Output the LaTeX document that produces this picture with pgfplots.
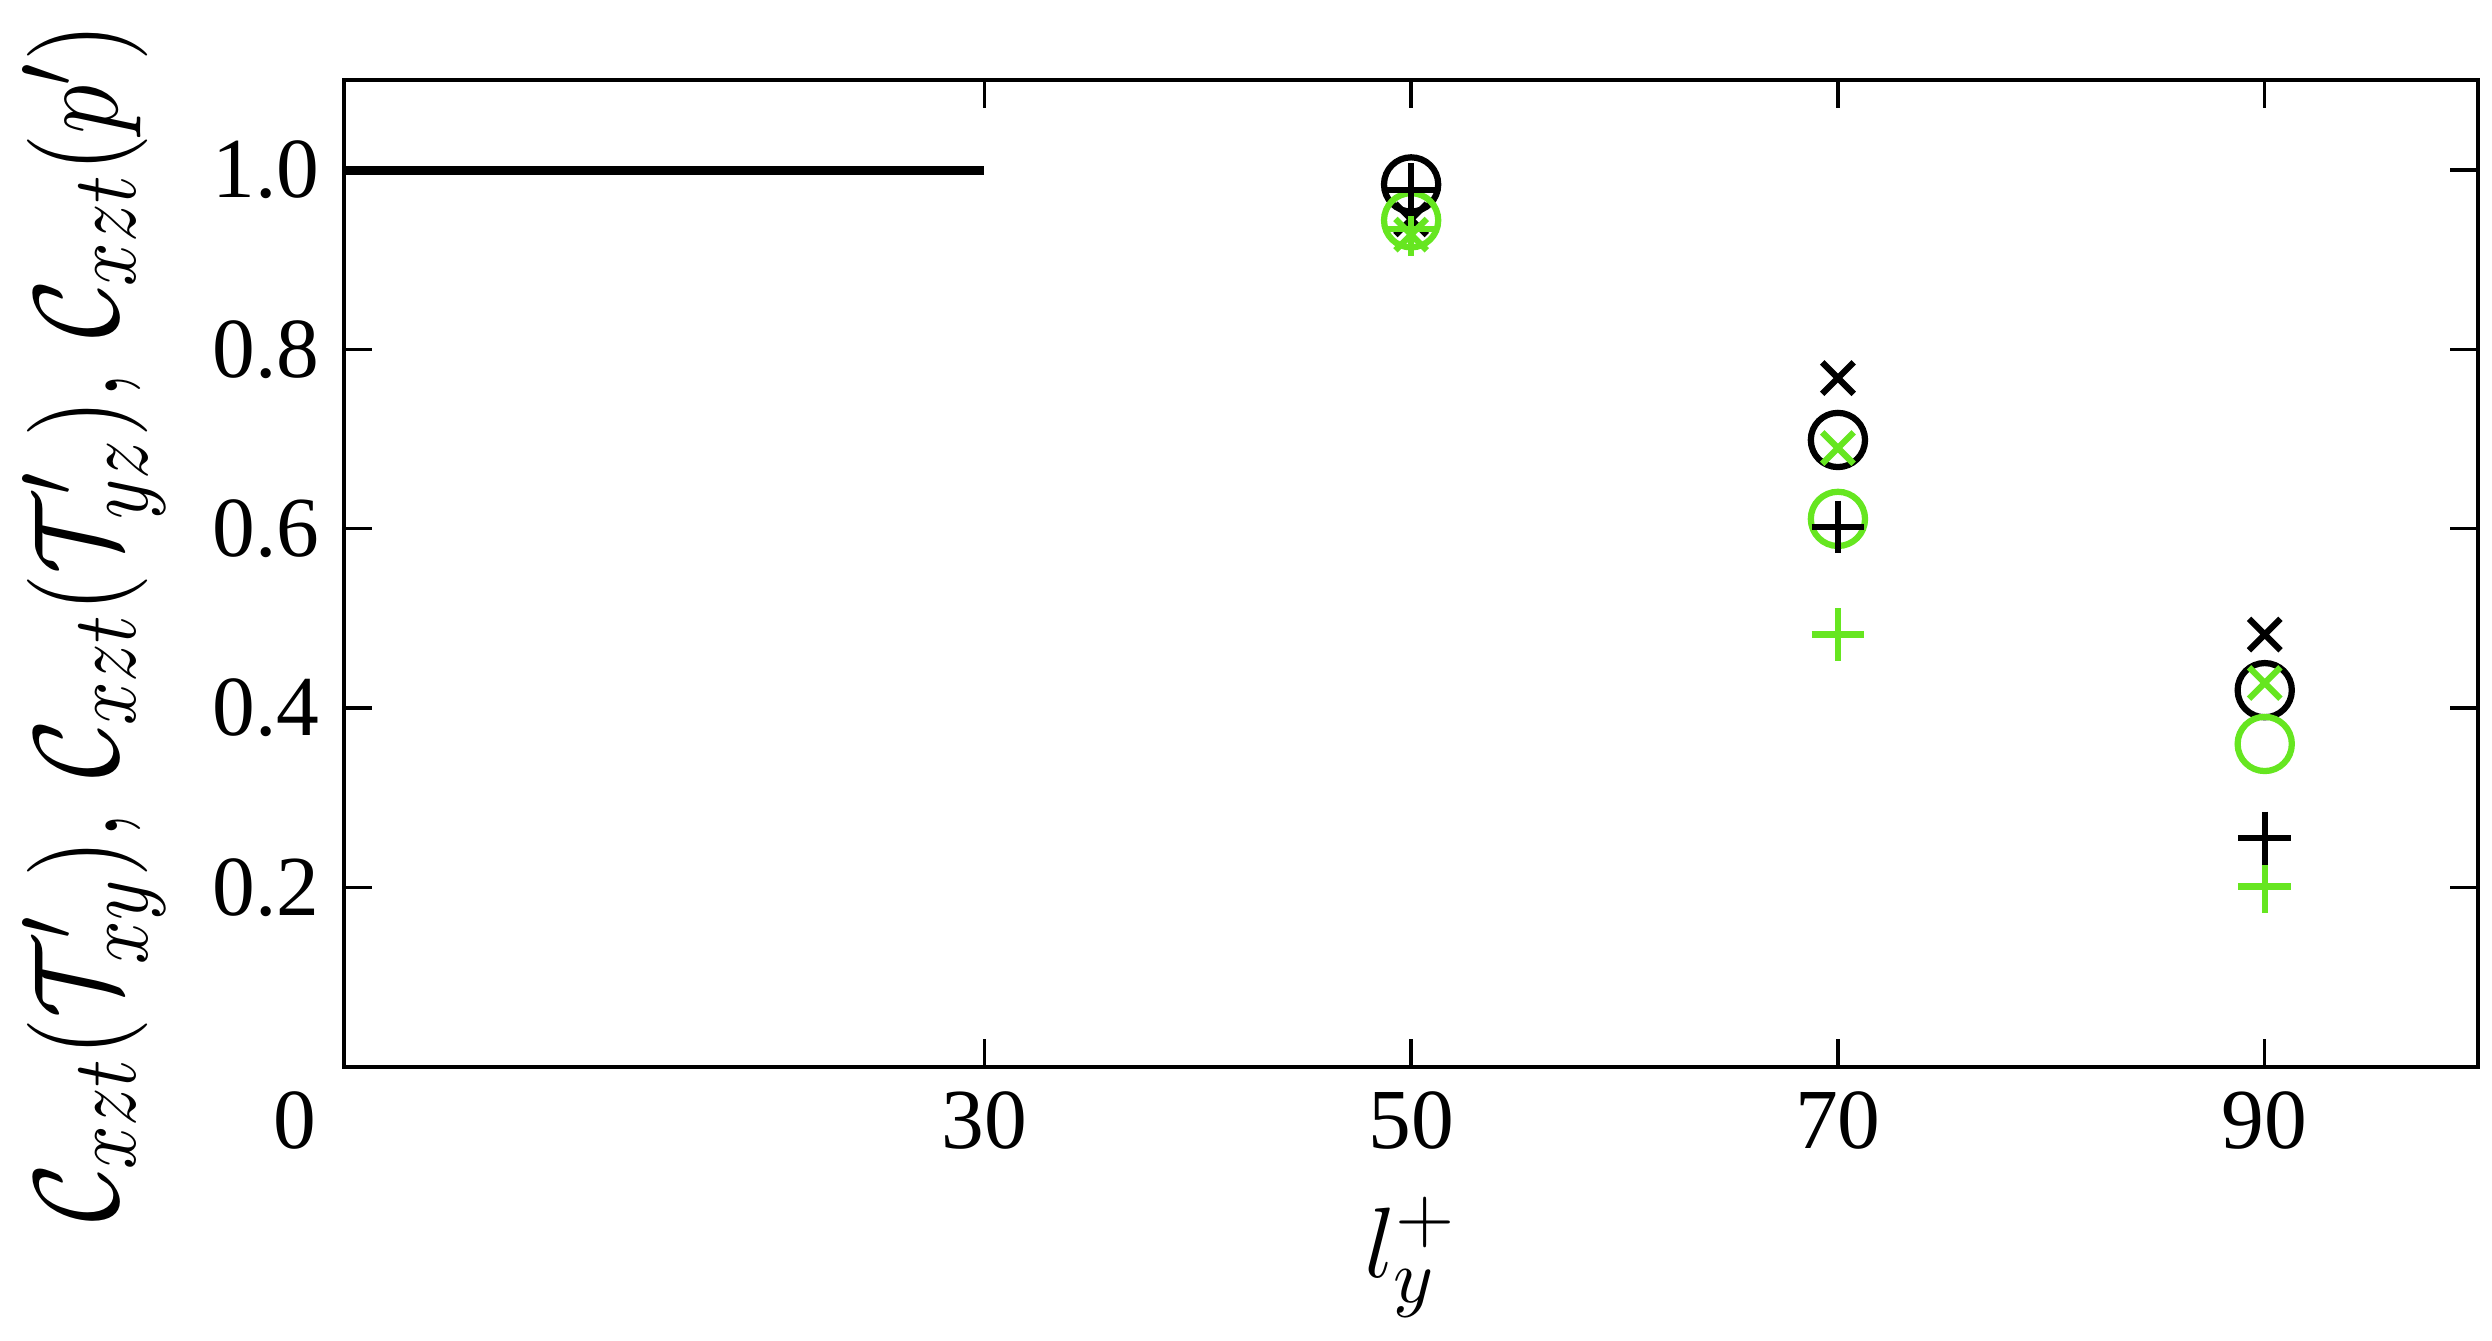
\documentclass[border=0pt]{standalone}
\usepackage{fontspec}
\setmainfont{Liberation Serif}
\usepackage{graphicx}
\usepackage{pgfplots}
\pgfplotsset{compat=1.18}
\definecolor{LGreen}{HTML}{66E620}

\begin{document}
\begin{tikzpicture}
\begin{axis}[
    scale only axis,
    width=307pt,
    height=141.9pt,
    xmin=0, xmax=100,
    ymin=0, ymax=1.1,
    xtick={0,30,50,70,90},
    xticklabels={\makebox[0pt][r]{0\hspace{4pt}},30,50,70,90},
    ytick={0.2,0.4,0.6,0.8,1.0},
    yticklabel style={/pgf/number format/fixed,/pgf/number format/fixed zerofill,/pgf/number format/precision=1},
    /pgf/number format/assume math mode=true,
    tick label style={font=\fontsize{12.3}{14}\selectfont},
    tick align=inside,
    major tick length=4pt,
    axis line style={line width=0.6pt},
    tick style={line width=0.5pt,black},
    xlabel={$l_y^+$},
    ylabel={\scalebox{1}[1.2]{$\mathcal{C}_{xzt}(\mathcal{T}'_{xy}),\,\mathcal{C}_{xzt}(\mathcal{T}'_{yz}),\,\mathcal{C}_{xzt}(p')$}},
    label style={font=\fontsize{15}{18}\selectfont},
    ylabel style={at={(ticklabel cs:0.45)}},
    clip=false,
]
\addplot[black,line width=1.3pt] coordinates {(0,1.0) (30,1.0)};
% black markers
\addplot[only marks,mark=o,mark size=3.9pt,black,line width=0.9pt] coordinates {(50,0.984) (70,0.699) (90,0.420)};
\addplot[only marks,mark=x,mark size=3.2pt,black,line width=0.9pt] coordinates {(50,0.945) (70,0.768) (90,0.482)};
% green markers
\addplot[only marks,mark=o,mark size=3.9pt,LGreen,line width=0.9pt] coordinates {(50,0.944) (70,0.611) (90,0.360)};
\addplot[only marks,mark=x,mark size=3.2pt,LGreen,line width=0.9pt] coordinates {(50,0.928) (70,0.690) (90,0.428)};
\addplot[only marks,mark=+,mark size=3.8pt,LGreen,line width=0.9pt] coordinates {(50,0.934) (70,0.482) (90,0.201)};
\addplot[only marks,mark=+,mark size=3.8pt,black,line width=0.9pt] coordinates {(50,0.978) (70,0.602) (90,0.255)};
\path (rel axis cs:1,0) ++(2pt,0);
\end{axis}
\end{tikzpicture}
\end{document}
